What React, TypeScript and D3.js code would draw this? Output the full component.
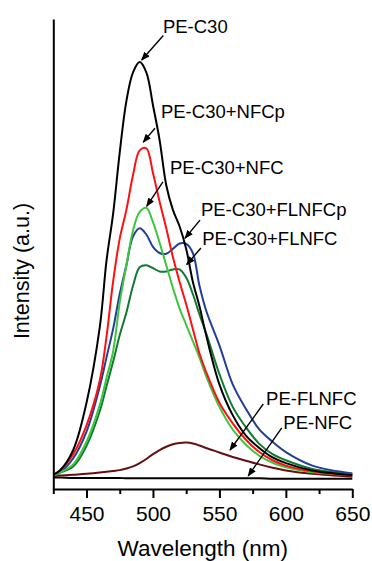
import * as d3 from "d3";
import { useRef, useEffect } from "react";

// wavelength grid (nm) shared by all spectra
const wavelengths = [425, 430, 440, 450, 460, 465, 470, 475, 480, 485, 490, 495, 500, 505, 510, 515, 520, 525, 530, 535, 540, 550, 560, 570, 580, 590, 600, 620, 650];

// intensities (a.u.)
const peC30 = [1, 2, 7, 18.5, 37, 53, 64.5, 79.5, 92, 99, 101.5, 99, 91, 82.5, 71.5, 65.5, 61.5, 56, 48, 42, 35, 23, 15.5, 10.5, 7.5, 5.2, 3.8, 2, 0.9];
const peC30NFCp = [1, 2, 6, 13, 24, 34.5, 48, 58.5, 65.5, 74, 80, 80.5, 74.5, 67.5, 61, 54, 48, 42.5, 36.5, 30.5, 26, 18.5, 13.5, 9.5, 6.5, 4.5, 3.2, 1.8, 0.8];
const peC30NFC = [0.8, 1.5, 3.5, 9, 18, 24.5, 31, 43, 52, 60.5, 65, 66, 62.5, 57.5, 52, 46.5, 41.5, 37.5, 33.5, 29.5, 25, 17.5, 12, 8.3, 5.6, 3.9, 2.8, 1.6, 1];
const peC30FLNFCp = [0.8, 1.5, 5, 11.5, 22.5, 29.5, 36.5, 45, 52, 59, 61, 59.5, 56.5, 55, 54.8, 56, 57.3, 57.2, 55, 47, 41, 32.5, 23, 17, 12, 9, 6.5, 3.2, 1.3];
const peC30FLNFC = [0.8, 1.5, 3, 8, 16.5, 22.5, 28.5, 35, 40.5, 47, 51.5, 52, 51.3, 50.5, 50.5, 51, 51, 49, 45, 40, 35.5, 25.5, 17.5, 12.5, 8.5, 6, 4.5, 2.4, 1.2];
const peFLNFC = [0.6, 0.8, 1, 1.2, 1.5, 1.7, 1.9, 2.1, 2.5, 3, 3.8, 4.8, 6, 7, 7.8, 8.4, 8.7, 8.8, 8.6, 8.1, 7.5, 6.4, 5.3, 4.4, 3.5, 2.7, 2, 1.2, 0.5];
const peNFC = [0.3, 0.3, 0.2, 0.2, 0.2, 0.2, 0.2, 0.2, 0.1, 0.1, 0.1, 0.1, 0.1, 0.1, 0.1, 0.1, 0.1, 0.1, 0.1, 0.1, 0.1, 0.1, 0.1, 0.1, 0.1, 0, 0, 0, 0];

const series = [
  { name: "PE-NFC", values: peNFC, color: "#000000" },
  { name: "PE-FLNFC", values: peFLNFC, color: "#641010" },
  { name: "PE-C30+FLNFC", values: peC30FLNFC, color: "#0f7a30" },
  { name: "PE-C30+FLNFCp", values: peC30FLNFCp, color: "#223f96" },
  { name: "PE-C30+NFC", values: peC30NFC, color: "#3fc43f" },
  { name: "PE-C30+NFCp", values: peC30NFCp, color: "#ff1010" },
  { name: "PE-C30", values: peC30, color: "#000000" },
];

// callouts: label start, arrow tail, arrow head (data units)
const labels = ["PE-C30", "PE-C30+NFCp", "PE-C30+NFC", "PE-C30+FLNFCp", "PE-C30+FLNFC", "PE-FLNFC", "PE-NFC"];
const labelAt = [[507.5, 108.6], [506, 88], [512.8, 74.2], [536.1, 64], [537.1, 57], [585.1, 18], [598.1, 12]];
const arrowFrom = [[507.8, 108], [501.5, 85.4], [507.5, 72.3], [535.4, 63], [536.1, 56.2], [583, 18.2], [596.9, 12.4]];
const arrowTo = [[491.5, 102], [492.7, 82], [495.3, 66.4], [524.1, 58.6], [525.4, 52.2], [558, 7], [571.7, 0.7]];

const majorTicks = [450, 500, 550, 600, 650];
const minorTicks = [425, 475, 525, 575, 625];

const W = 372, H = 561;
const FONT = "'Liberation Sans', Arial, Helvetica, sans-serif";

export default function App() {
  const gx = useRef(null);
  const gxm = useRef(null);
  const gy = useRef(null);
  const x = d3.scaleLinear([425, 650], [53.3, 352.3]);
  const y = d3.scaleLinear([-2.5, 112], [489, 19]);
  const line = d3.line<number>((d, i) => x(wavelengths[i]), (d) => y(d)).curve(d3.curveCatmullRom.alpha(0.5));

  useEffect(() => {
    const g = d3.select(gx.current);
    g.call(d3.axisBottom(x).tickValues(majorTicks).tickSize(9).tickSizeOuter(0).tickPadding(8).tickFormat(d3.format("d")));
    g.select(".domain").attr("stroke-width", 2);
    g.selectAll(".tick line").attr("stroke-width", 2);
    g.selectAll(".tick text").attr("font-size", 21).attr("font-family", FONT).attr("fill", "#000");
    const m = d3.select(gxm.current);
    m.call(d3.axisBottom(x).tickValues(minorTicks).tickSize(5).tickSizeOuter(0).tickFormat(() => ""));
    m.select(".domain").remove();
    m.selectAll(".tick line").attr("stroke-width", 2);
    const a = d3.select(gy.current);
    a.call(d3.axisLeft(y).tickValues([]).tickSizeOuter(0));
    a.select(".domain").attr("stroke-width", 2);
  }, []);

  return (
    <svg width={W} height={H} style={{ position: "absolute", left: 0, top: 0, background: "#fff" }} fontFamily={FONT}>
      <defs>
        <marker id="arr" markerUnits="userSpaceOnUse" markerWidth={9} markerHeight={7} refX={8} refY={3.5} orient="auto">
          <path d="M0,0 L9,3.5 L0,7 Z" fill="#000" />
        </marker>
      </defs>
      <g fill="none" strokeWidth={2} strokeLinejoin="round">
        {series.map((s) => (
          <path key={s.name} d={line(s.values) || ""} stroke={s.color} />
        ))}
      </g>
      <g ref={gx} transform={`translate(0,${y(-2.5)})`} />
      <g ref={gxm} transform={`translate(0,${y(-2.5)})`} />
      <g ref={gy} transform={`translate(${x(425)},0)`} />
      <g>
        {labels.map((t, i) => (
          <g key={t}>
            <line x1={x(arrowFrom[i][0])} y1={y(arrowFrom[i][1])} x2={x(arrowTo[i][0])} y2={y(arrowTo[i][1])} stroke="#000" strokeWidth={1.4} markerEnd="url(#arr)" />
            <text x={x(labelAt[i][0])} y={y(labelAt[i][1])} fontSize={18.5} fill="#000">{t}</text>
          </g>
        ))}
      </g>
      <text x={(x(425) + x(650)) / 2} y={556} textAnchor="middle" fontSize={22.5}>Wavelength (nm)</text>
      <text transform={`translate(29,271) rotate(-90)`} textAnchor="middle" fontSize={21.5}>Intensity (a.u.)</text>
    </svg>
  );
}
